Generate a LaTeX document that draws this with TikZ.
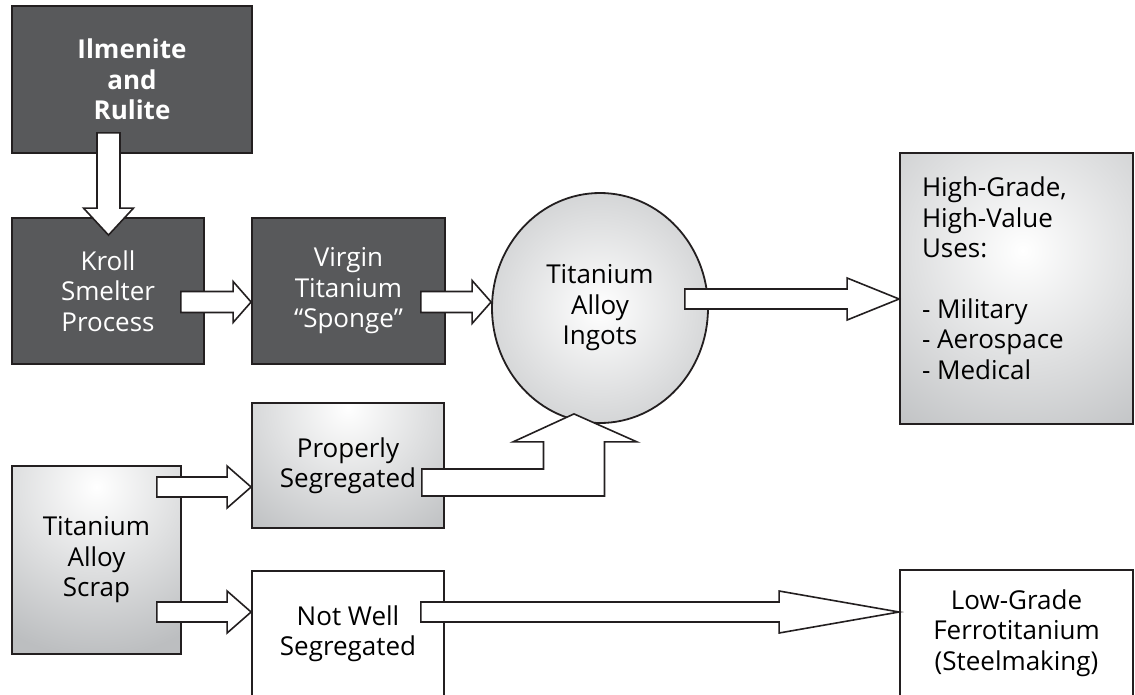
\documentclass[tikz,border=0pt]{standalone}
\usepackage{fontspec}
\setmainfont{Open Sans}
\usepackage{tikz}
\usetikzlibrary{calc,positioning,shapes.geometric}

\definecolor{edgegrey}{HTML}{231F20}
\definecolor{darkfill}{HTML}{58595B}
\definecolor{greyfill}{HTML}{BCBEC0}

% horizontal block arrow: start, tip, half shaft, half head, head length
\newcommand{\hblock}[5]{%
  \draw[fatarrow] ($(#1)+(0,-#3)$) -- ($(#2)+(-#5,-#3)$) -- ($(#2)+(-#5,-#4)$) -- (#2)
    -- ($(#2)+(-#5,#4)$) -- ($(#2)+(-#5,#3)$) -- ($(#1)+(0,#3)$) -- cycle;}

\begin{document}
\begin{tikzpicture}
%defines
  [x=1pt,y=-1pt,
   every node/.style={font=\fontsize{26}{30.5}\selectfont,align=center,
     inner sep=0pt,line width=1.8pt,draw=edgegrey},
   darkbox/.style={rectangle,fill=darkfill,text=white},
   whitebox/.style={rectangle,fill=white},
   greybox/.style n args={3}{rectangle,path picture={
     \fill[greyfill] (path picture bounding box.south west) rectangle (path picture bounding box.north east);
     \shade[inner color=white,outer color=greyfill]
       ($(path picture bounding box.center)+(#1,#2)$) circle (#3pt);}},
   fatarrow/.style={fill=white,draw=edgegrey,line width=1.6pt,line join=miter}]
\clip (0,0) rectangle (1135,694);
%nodes
\node[darkbox,font=\bfseries\fontsize{26}{30.5}\selectfont,
      minimum width=240,minimum height=147] (ilmenite) at (132,79.5) {Ilmenite\\and\\Rulite};
\node[darkbox,minimum width=192,minimum height=146] (kroll)  at (108,291)   {Kroll\\Smelter\\Process};
\node[darkbox,minimum width=193,minimum height=146] (virgin) at (348.5,291) {Virgin\\Titanium\\``Sponge''};
\node[ellipse,minimum width=216,minimum height=230,
      path picture={\fill[greyfill] (path picture bounding box.south west) rectangle (path picture bounding box.north east);
        \shade[inner color=white,outer color=greyfill] (path picture bounding box.center) circle (180pt);}]
      (ingot) at (600,308) {Titanium\\Alloy\\Ingots};
\node[greybox={6}{-38}{230},minimum width=233,minimum height=271] (high) at (1016.5,288.5) {};
\node[draw=none,anchor=north west,align=left] (uses) at ($(high.north west)+(22,24)$)
      {High-Grade,\\High-Value\\Uses:\\[30pt]- Military\\- Aerospace\\- Medical};
\node[greybox={0}{-58}{160},minimum width=192,minimum height=125] (proper) at (348,465.5) {Properly\\Segregated};
\node[greybox={0}{-73}{170},minimum width=169,minimum height=188] (scrap)  at (96.5,560)  {Titanium\\Alloy\\Scrap};
\node[whitebox,minimum width=192,minimum height=125] (notwell)  at (348,633.5)  {Not Well\\Segregated};
\node[whitebox,minimum width=233,minimum height=126] (lowgrade) at (1016.5,633) {Low-Grade\\Ferrotitanium\\(Steelmaking)};
%links
\coordinate (d0) at ($(kroll.north |- ilmenite.south)+(0.5,-21)$);
\coordinate (d1) at ($(kroll.north)+(0.5,18)$);
\draw[fatarrow] ($(d0)+(-11.5,0)$) -- ($(d1)+(-11.5,-27)$) -- ($(d1)+(-25,-27)$) -- (d1)
  -- ($(d1)+(25,-27)$) -- ($(d1)+(11.5,-27)$) -- ($(d0)+(11.5,0)$) -- cycle;
\coordinate (k0) at ($(kroll.east)+(-24,11)$);
\coordinate (k1) at ($(virgin.west)+(0,11)$);
\hblock{k0}{k1}{10.5}{20.5}{18}
\coordinate (v0) at ($(virgin.east)+(-25,11)$);
\coordinate (v1) at ($(ingot.west)+(0,-6)$);
\hblock{v0}{v1}{10.5}{21.5}{19}
\coordinate (i0) at ($(ingot.east)+(-24,-9)$);
\coordinate (i1) at ($(high.west)+(0,10.5)$);
\hblock{i0}{i1}{10}{21}{52}
\coordinate (s0) at ($(scrap.east)+(-25,-73)$);
\coordinate (s1) at ($(proper.west)+(0,21.5)$);
\hblock{s0}{s1}{10}{21}{24}
\coordinate (t0) at ($(scrap.east)+(-25,52)$);
\coordinate (t1) at ($(notwell.west)+(0,-21.5)$);
\hblock{t0}{t1}{10}{21}{24}
\coordinate (n0) at ($(notwell.east)+(-24,-21.5)$);
\coordinate (n1) at ($(lowgrade.west)+(0,-21)$);
\hblock{n0}{n1}{10}{21}{120}
\coordinate (p0) at ($(proper.east)+(-23,17)$);
\coordinate (p1) at ($(ingot.south)+(-26,-10)$);
\coordinate (pc) at (p1 |- p0);
\draw[fatarrow] ($(p0)+(0,-13.5)$) -- ($(pc)+(-30.5,-13.5)$) -- ($(p1)+(-30.5,28)$) -- ($(p1)+(-61,28)$)
  -- (p1) -- ($(p1)+(63,28)$) -- ($(p1)+(30.5,28)$) -- ($(pc)+(30.5,13.5)$) -- ($(p0)+(0,13.5)$) -- cycle;
\end{tikzpicture}
\end{document}
